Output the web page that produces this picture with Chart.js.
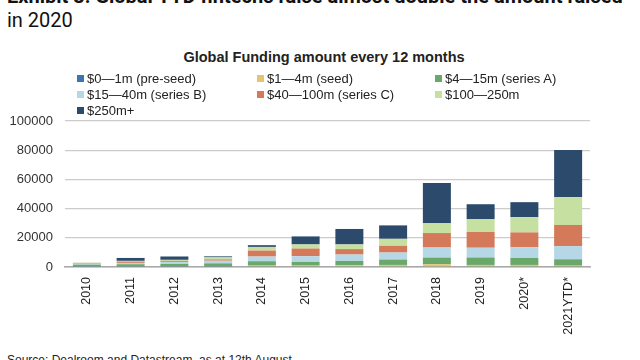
<!DOCTYPE html>
<html>
<head>
<meta charset="utf-8">
<script src="https://cdn.jsdelivr.net/npm/chart.js@4"></script>
<style>
  body { margin: 0; width: 640px; height: 360px; overflow: hidden; background: #fff; font-family: "Liberation Sans", Arial, sans-serif; position: relative; }
  #head { position: absolute; left: 7px; top: -16px; font-family: Roboto, "Liberation Sans", sans-serif; font-size: 20px; line-height: 24px; color: #111; }
  #head .l1 { font-weight: 700; white-space: nowrap; }
  #title { position: absolute; left: 0; width: 648px; top: 49px; text-align: center; font-weight: bold; font-size: 14.5px; color: #222; }
  #legend { position: absolute; left: 0; top: 71px; z-index: 2; }
  .item { position: absolute; font-size: 13px; color: #222; white-space: nowrap; line-height: 16px; }
  .item span { display: inline-block; width: 7px; height: 7px; margin-right: 3px; vertical-align: 1px; }
  #src { position: absolute; left: 7px; top: 353px; font-size: 12px; color: #222; }
  #wrap { position: absolute; left: 0; top: 0; width: 640px; height: 360px; }
</style>
</head>
<body>
<div id="head"><div class="l1">Exhibit 3: Global YTD fintechs raise almost double the amount raised</div><div>in 2020</div></div>
<div id="title">Global Funding amount every 12 months</div>
<div id="src">Source: Dealroom and Datastream, as at 12th August</div>
<div id="wrap"><canvas id="c" width="640" height="360"></canvas></div>
<div id="legend"></div>
<script>
// Categorias del eje x
const years = ['2010', '2011', '2012', '2013', '2014', '2015', '2016', '2017', '2018', '2019', '2020*', '2021YTD*']

// Series apiladas (de abajo hacia arriba)
const preSeed = [100, 100, 100, 100, 150, 150, 150, 200, 250, 200, 200, 200]
const seed = [300, 400, 400, 400, 800, 800, 1000, 1200, 1600, 1200, 1200, 700]
const seriesA = [1200, 1400, 1600, 2000, 3000, 2500, 3000, 3700, 4600, 5100, 4800, 4400]
const seriesB = [700, 900, 1400, 1800, 3200, 3900, 4400, 4800, 6900, 6700, 7400, 9000]
const seriesC = [500, 900, 700, 900, 4100, 5300, 3700, 4600, 9900, 10800, 10100, 14500]
const m100to250 = [200, 500, 700, 1400, 2500, 2800, 3200, 4800, 6700, 8700, 10400, 19100]
const m250plus = [0, 2000, 2300, 700, 1200, 5500, 10600, 9200, 27600, 10300, 10300, 32200]

const labels = ['$0—1m (pre-seed)', '$1—4m (seed)', '$4—15m (series A)', '$15—40m (series B)', '$40—100m (series C)', '$100—250m', '$250m+']
const colors = ['#3b76b0', '#e6c36f', '#6aa86a', '#b5d7e6', '#d47a5a', '#c5e0a0', '#2c4a6b']
const yTicks = [0, 20000, 40000, 60000, 80000, 100000]

const series = [preSeed, seed, seriesA, seriesB, seriesC, m100to250, m250plus]

// leyenda en 3 columnas
const legendCols = [77, 257, 435]
const legend = document.getElementById('legend')
labels.forEach((lab, i) => {
    const d = document.createElement('div')
    d.className = 'item'
    d.style.left = legendCols[i % 3] + 'px'
    d.style.top = (Math.floor(i / 3) * 16) + 'px'
    d.innerHTML = '<span style="background:' + colors[i] + '"></span>' + lab
    legend.appendChild(d)
})

new Chart(document.getElementById('c'), {
    type: 'bar',
    data: {
        labels: years,
        datasets: series.map((s, i) => ({
            label: labels[i],
            data: s,
            backgroundColor: colors[i],
            borderWidth: 0,
            categoryPercentage: 1,
            barPercentage: 0.64
        }))
    },
    options: {
        responsive: false,
        animation: false,
        devicePixelRatio: 1,
        layout: { padding: { left: 5, right: 50, top: 121, bottom: 0 } },
        plugins: { legend: { display: false }, tooltip: { enabled: false } },
        scales: {
            x: {
                stacked: true,
                grid: { display: false, drawTicks: false },
                border: { color: '#a8a8a8', width: 1.5 },
                ticks: { color: '#222', font: { family: 'Liberation Sans', size: 12.5 }, maxRotation: 90, minRotation: 90, padding: 10 },
                afterFit: (s) => { s.height = 93 }
            },
            y: {
                stacked: true,
                min: 0,
                max: 100000,
                afterBuildTicks: (s) => { s.ticks = yTicks.map(v => ({ value: v })) },
                grid: { color: '#cccccc', lineWidth: 1.2, drawTicks: false },
                border: { display: false },
                ticks: { color: '#333', font: { family: 'Liberation Sans', size: 13 }, padding: 12, callback: (v) => String(v) },
                afterFit: (s) => { s.width = 60 }
            }
        }
    }
})
</script>
</body>
</html>
